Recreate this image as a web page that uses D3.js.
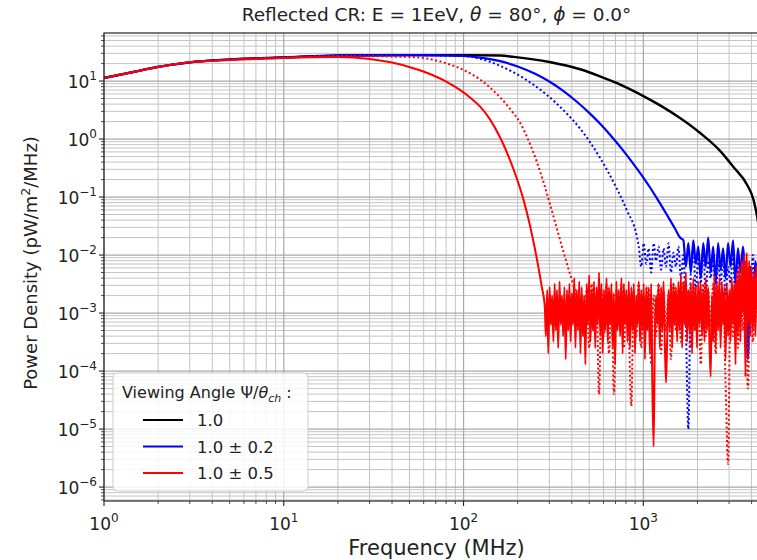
<!DOCTYPE html>
<html>
<head>
<meta charset="utf-8">
<script src="https://cdn.jsdelivr.net/npm/d3@7"></script>
<style>
  body { margin: 0; background: #fff; }
  text { font-family: "DejaVu Sans", sans-serif; fill: #222; }
</style>
</head>
<body>
<div id="chart"></div>
<script>
// smooth parts of the spectra (MHz, pW/m^2/MHz)
const blackFreq  = [1, 1.5, 2, 3, 5, 10, 20, 50, 100, 160, 190, 300, 450, 575, 750, 960, 1240, 1600, 2070, 2680, 3170, 3790, 4100, 4300, 4500];
const blackPower = [11.3, 14.6, 17.5, 21, 23.5, 25.5, 27.5, 28, 28, 27.5, 26.1, 21.3, 15.8, 12.0, 8.6, 5.9, 3.8, 2.3, 1.27, 0.62, 0.33, 0.16, 0.09, 0.045, 0.018];

const blueFreq  = [1, 1.5, 2, 3, 5, 10, 20, 50, 100, 130, 160, 200, 250, 303, 360, 430, 500, 575, 660, 750, 876, 1000, 1090, 1200, 1365, 1500, 1600];
const bluePower = [11.3, 14.6, 17.5, 21, 23.5, 25.5, 27.5, 28, 27, 24.9, 22.0, 17.8, 13.3, 9.6, 6.7, 4.3, 2.82, 1.83, 1.14, 0.71, 0.38, 0.217, 0.146, 0.091, 0.047, 0.0286, 0.020];

const blueDotFreq  = [1, 1.5, 2, 3, 5, 10, 20, 50, 100, 123, 160, 190, 243, 290, 377, 446, 575, 700, 810, 920];
const blueDotPower = [11.3, 14.6, 17.5, 21, 23.5, 25.5, 27.5, 28, 27, 24.3, 18.2, 14.1, 8.8, 5.8, 2.7, 1.5, 0.47, 0.155, 0.059, 0.021];

const redFreq  = [1, 1.5, 2, 3, 5, 10, 20, 30, 40, 52, 67, 81, 95, 110, 123, 140, 160, 180, 200, 215, 230, 245, 260, 272];
const redPower = [11.3, 14.6, 17.5, 21, 23, 25, 26, 24.0, 20.8, 16.8, 12.7, 9.6, 7.1, 5.05, 3.69, 2.2, 1.05, 0.46, 0.189, 0.092, 0.041, 0.0168, 0.0065, 0.0029];

const redDotFreq  = [1, 1.5, 2, 3, 5, 10, 20, 50, 81, 100, 123, 140, 160, 185, 207, 230, 256, 280, 303, 330, 360, 392, 420, 443];
const redDotPower = [11.3, 14.6, 17.5, 21, 23.5, 25.5, 27, 26, 20, 15.5, 10.7, 7.8, 5.2, 3.06, 1.87, 0.94, 0.40, 0.17, 0.074, 0.029, 0.0112, 0.0046, 0.0023, 0.0014];

// noise floor of the 1.0 +/- 0.5 solid curve, finer sampling
const redNoiseFreq = [283, 287, 292, 296, 301, 306, 311, 316, 321, 326,
  331, 336, 342, 347, 353, 358, 364, 370, 376, 382,
  388, 394, 400, 406, 413, 419, 426, 433, 440, 447,
  454, 461, 469, 476, 484, 492, 500, 508, 516, 524,
  532, 540, 549, 558, 567, 576, 585, 594, 604, 614,
  624, 634, 644, 654, 665, 675, 686, 697, 708, 719,
  731, 743, 755, 767, 779, 791, 804, 817, 830, 843,
  857, 871, 885, 899, 913, 928, 943, 958, 973, 989,
  1005, 1021, 1037, 1053, 1070, 1087, 1105, 1123, 1141, 1159,
  1177, 1196, 1215, 1235, 1255, 1275, 1295, 1316, 1337, 1358,
  1380, 1402, 1425, 1448, 1471, 1494, 1518, 1542, 1567, 1592,
  1618, 1644, 1670, 1697, 1724, 1752, 1780, 1808, 1837, 1867,
  1897, 1927, 1958, 1989, 2021, 2053, 2086, 2120, 2154, 2188,
  2223, 2259, 2295, 2332, 2369, 2407, 2446, 2485, 2525, 2565,
  2606, 2648, 2690, 2733, 2777, 2822, 2867, 2913, 2960, 3007,
  3055, 3104, 3154, 3205, 3256, 3308, 3361, 3415, 3469, 3525,
  3581, 3638, 3697, 3756, 3816, 3878, 3940, 4003, 4067, 4132,
  4198, 4266, 4334, 4404, 4474];

const redNoise = [1.3e-3, 4.0e-4, 2.5e-3, 2.0e-4, 2.8e-3, 6.3e-4, 2.0e-3, 3.2e-4, 3.2e-3, 5.0e-4,
  2.5e-3, 2.5e-4, 3.5e-3, 6.3e-4, 2.0e-3, 4.0e-4, 2.8e-3, 1.6e-4, 2.5e-3, 5.0e-4,
  3.2e-3, 3.2e-4, 2.2e-3, 6.3e-4, 4.0e-3, 2.5e-4, 2.5e-3, 5.0e-4, 3.5e-3, 2.0e-4,
  2.8e-3, 4.0e-4, 2.0e-3, 1.3e-4, 3.2e-3, 6.3e-4, 4.5e-3, 3.2e-4, 2.5e-3, 5.0e-4,
  3.5e-3, 2.5e-4, 2.8e-3, 6.3e-4, 5.0e-3, 4.0e-4, 3.2e-3, 2.0e-4, 2.5e-3, 5.0e-4,
  4.0e-3, 3.2e-4, 2.8e-3, 6.3e-4, 3.2e-3, 2.5e-4, 2.2e-3, 1.3e-4, 3.5e-3, 5.0e-4,
  2.5e-3, 4.0e-4, 4.0e-3, 2.0e-4, 3.2e-3, 6.3e-4, 2.5e-3, 3.2e-4, 3.5e-3, 2.5e-4,
  2.8e-3, 5.0e-4, 3.2e-3, 2.0e-4, 2.0e-3, 6.3e-4, 3.5e-3, 3.2e-4, 2.5e-3, 5.0e-4,
  3.2e-3, 1.6e-4, 2.8e-3, 5.0e-4, 2.5e-3, 2.0e-4, 3.2e-3, 5.0e-5, 5.0e-6, 4.0e-4,
  2.0e-3, 6.3e-4, 3.2e-3, 2.5e-4, 2.8e-3, 5.0e-4, 3.5e-3, 3.2e-4, 6.3e-5, 4.0e-4,
  2.5e-3, 5.0e-4, 4.0e-3, 2.5e-4, 3.2e-3, 6.3e-4, 2.8e-3, 3.2e-4, 3.5e-3, 5.0e-4,
  4.5e-3, 2.5e-4, 3.2e-3, 6.3e-4, 5.0e-3, 3.2e-4, 2.5e-3, 5.0e-4, 3.2e-3, 2.0e-4,
  4.0e-3, 5.0e-4, 2.8e-3, 2.5e-4, 3.5e-3, 6.3e-4, 3.2e-3, 4.0e-4, 2.5e-3, 3.2e-4,
  4.0e-3, 5.0e-4, 2.8e-3, 3.2e-4, 8.0e-5, 2.0e-3, 3.2e-4, 4.5e-3, 2.5e-4, 3.2e-3,
  5.0e-4, 4.0e-3, 2.5e-4, 3.5e-3, 6.3e-4, 2.8e-3, 1.6e-4, 3.2e-3, 4.0e-4, 2.5e-3,
  3.2e-4, 4.0e-3, 6.3e-4, 3.2e-3, 1.3e-4, 5.0e-3, 4.0e-4, 6.3e-3, 3.2e-4, 7.9e-3,
  1.0e-3, 1.0e-2, 8.0e-5, 1.1e-2, 6.3e-4, 7.9e-3, 4.0e-4, 6.3e-3, 5.0e-4, 5.0e-3,
  4.0e-4, 6.3e-3, 1.0e-3, 5.0e-3, 1.6e-3];

// noise floors of the other curves; each tail lines up with the end of noiseFreq
const noiseFreq = [283, 292, 301, 311, 321, 331, 342, 353, 364, 376, 388, 400, 413, 426, 440, 454, 469, 484, 500, 516,
  532, 549, 567, 585, 604, 624, 644, 665, 686, 708, 731, 755, 779, 804, 830, 857, 885, 913, 943, 973,
  1005, 1037, 1070, 1105, 1141, 1177, 1215, 1255, 1295, 1337, 1380, 1425, 1471, 1518, 1567, 1618, 1670, 1724, 1780, 1837,
  1897, 1958, 2021, 2086, 2154, 2223, 2295, 2369, 2446, 2525, 2606, 2690, 2777, 2867, 2960, 3055, 3154, 3256, 3361, 3469,
  3581, 3697, 3816, 3940, 4067, 4198, 4334, 4474];

const redDotNoise = [1.6e-3, 4.0e-4, 2.5e-3, 2.5e-4, 3.2e-3, 5.0e-4, 2.0e-3, 4.0e-5, 2.5e-3, 4.0e-4,
  3.2e-3, 2.0e-4, 2.0e-3, 4.0e-5, 2.5e-3, 6.3e-4, 3.2e-3, 2.5e-4, 2.0e-3, 5.0e-4,
  2.5e-5, 2.5e-3, 4.0e-4, 3.2e-3, 2.5e-4, 2.0e-3, 6.3e-4, 2.8e-3, 1.3e-4, 2.0e-3,
  4.0e-4, 3.2e-3, 2.0e-4, 2.5e-3, 5.0e-4, 2.0e-3, 1.6e-4, 3.2e-3, 5.0e-4, 2.5e-3,
  3.2e-4, 3.5e-3, 6.3e-4, 2.5e-3, 2.5e-4, 3.2e-3, 5.0e-4, 2.0e-3, 1.3e-4, 3.2e-3,
  4.0e-4, 2.5e-3, 6.3e-4, 3.2e-3, 2.0e-4, 2.5e-3, 5.0e-4, 2.0e-3, 6.3e-5, 2.5e-6,
  2.5e-3, 4.0e-4, 3.2e-3, 2.5e-4, 4.0e-3, 5.0e-4, 7.9e-3, 5.0e-5, 5.0e-3, 3.2e-4,
  4.0e-3, 6.3e-4, 2.5e-3];

const blueDotNoise = [1.4e-2, 6.3e-3, 1.6e-2, 7.1e-3, 1.3e-2, 5.0e-3, 1.6e-2, 7.9e-3, 1.4e-2, 5.6e-3,
  1.3e-2, 6.3e-3, 1.6e-2, 5.0e-3, 1.1e-2, 6.3e-3, 1.4e-2, 4.0e-3, 1.0e-2, 6.3e-4,
  1.0e-5, 5.0e-3, 1.3e-2, 2.5e-3, 1.0e-2, 3.2e-3, 1.3e-2, 2.0e-3, 7.9e-3, 4.0e-3,
  1.1e-2, 1.6e-3, 7.9e-3, 3.2e-3, 1.0e-2, 2.0e-3, 6.3e-3, 3.2e-3, 1.3e-2, 1.3e-3,
  7.9e-3, 2.5e-3, 1.0e-2, 2.5e-4, 6.3e-3, 2.0e-3, 1.0e-2, 1.3e-3, 7.9e-3, 3.2e-3];

const blueNoise = [1.8e-2, 6.3e-3, 1.6e-2, 5.0e-3, 1.8e-2, 7.1e-3, 1.4e-2, 4.0e-3, 1.6e-2, 6.3e-3,
  2.0e-2, 5.0e-3, 1.4e-2, 3.2e-3, 1.6e-2, 5.6e-3, 1.3e-2, 4.0e-3, 1.6e-2, 6.3e-3,
  1.8e-2, 3.2e-3, 1.3e-2, 5.0e-3, 1.4e-2, 2.5e-3, 1.6e-4, 6.3e-3, 1.3e-3, 7.9e-3,
  2.5e-3, 1.0e-2];

const legendLabels = ["1.0", "1.0 \u00b1 0.2", "1.0 \u00b1 0.5"];
const legendColors = ["black", "blue", "red"];
const xTickExp = [0, 1, 2, 3];
const yTickExp = [1, 0, -1, -2, -3, -4, -5, -6];

const width = 757, height = 560;
const plot = {left: 104, top: 33, right: 769, bottom: 501};

const svg = d3.select("#chart").append("svg")
  .attr("width", width).attr("height", height);

const x = d3.scaleLog().domain([1, 5000]).range([plot.left, plot.right]);
const y = d3.scaleLog().domain([5.75e-7, 67.3]).range([plot.bottom, plot.top]);

const isMajor = v => Math.abs(Math.log10(v) - Math.round(Math.log10(v))) < 1e-6;

// grid, minor first then major
const grid = svg.append("g");
const xt = x.ticks(), yt = y.ticks();
grid.selectAll(".gxm").data(xt.filter(v => !isMajor(v))).enter().append("line")
  .attr("x1", d => x(d)).attr("x2", d => x(d)).attr("y1", plot.top).attr("y2", plot.bottom)
  .attr("stroke", "#c4c4c4").attr("stroke-width", 1);
grid.selectAll(".gym").data(yt.filter(v => !isMajor(v))).enter().append("line")
  .attr("y1", d => y(d)).attr("y2", d => y(d)).attr("x1", plot.left).attr("x2", plot.right)
  .attr("stroke", "#c4c4c4").attr("stroke-width", 1);
grid.selectAll(".gxM").data(xt.filter(isMajor)).enter().append("line")
  .attr("x1", d => x(d)).attr("x2", d => x(d)).attr("y1", plot.top).attr("y2", plot.bottom)
  .attr("stroke", "#a8a8a8").attr("stroke-width", 1.2);
grid.selectAll(".gyM").data(yt.filter(isMajor)).enter().append("line")
  .attr("y1", d => y(d)).attr("y2", d => y(d)).attr("x1", plot.left).attr("x2", plot.right)
  .attr("stroke", "#a8a8a8").attr("stroke-width", 1.2);

// curves
svg.append("clipPath").attr("id", "clip").append("rect")
  .attr("x", plot.left).attr("y", plot.top)
  .attr("width", plot.right - plot.left).attr("height", plot.bottom - plot.top);

function series(freq, power, tailFreq, tail) {
  const pts = freq.map((f, i) => [f, power[i]]);
  if (tail) {
    const off = tailFreq.length - tail.length;
    tail.forEach((v, i) => pts.push([tailFreq[off + i], v]));
  }
  return pts;
}

const curves = [
  {pts: series(blackFreq, blackPower), color: "black", dash: null, w: 2.4},
  {pts: series(blueFreq, bluePower, noiseFreq, blueNoise), color: "blue", dash: null, w: 2.2},
  {pts: series(blueDotFreq, blueDotPower, noiseFreq, blueDotNoise), color: "blue", dash: "2,2.5", w: 2},
  {pts: series(redFreq, redPower, redNoiseFreq, redNoise), color: "red", dash: null, w: 2},
  {pts: series(redDotFreq, redDotPower, noiseFreq, redDotNoise), color: "red", dash: "2,2.5", w: 2}
];

const line = d3.line().curve(d3.curveMonotoneX).x(d => x(d[0])).y(d => y(d[1]));
svg.append("g").attr("clip-path", "url(#clip)")
  .selectAll("path").data(curves).enter().append("path")
  .attr("d", d => line(d.pts))
  .attr("fill", "none")
  .attr("stroke", d => d.color)
  .attr("stroke-width", d => d.w)
  .attr("stroke-dasharray", d => d.dash)
  .attr("stroke-linejoin", "round");

// frame
svg.append("rect")
  .attr("x", plot.left).attr("y", plot.top)
  .attr("width", plot.right - plot.left).attr("height", plot.bottom - plot.top)
  .attr("fill", "none").attr("stroke", "#222").attr("stroke-width", 1.2);

// ticks
const ticks = svg.append("g").attr("stroke", "#222");
ticks.selectAll(".tx").data(xt).enter().append("line")
  .attr("x1", d => x(d)).attr("x2", d => x(d))
  .attr("y1", plot.bottom).attr("y2", d => plot.bottom + (isMajor(d) ? 5 : 3))
  .attr("stroke-width", d => isMajor(d) ? 1.1 : 0.8);
ticks.selectAll(".ty").data(yt).enter().append("line")
  .attr("y1", d => y(d)).attr("y2", d => y(d))
  .attr("x1", plot.left).attr("x2", d => plot.left - (isMajor(d) ? 5 : 3))
  .attr("stroke-width", d => isMajor(d) ? 1.1 : 0.8);

function powLabel(sel, e) {
  sel.append("tspan").text("10");
  sel.append("tspan").attr("dy", -8).attr("font-size", 12)
    .text(e < 0 ? "\u2212" + (-e) : String(e));
}

svg.selectAll(".xl").data(xTickExp).enter().append("text")
  .attr("x", d => x(Math.pow(10, d))).attr("y", 530)
  .attr("text-anchor", "middle").attr("font-size", 17)
  .each(function(d) { powLabel(d3.select(this), d); });

svg.selectAll(".yl").data(yTickExp).enter().append("text")
  .attr("x", 97).attr("y", d => y(Math.pow(10, d)) + 7)
  .attr("text-anchor", "end").attr("font-size", 17)
  .each(function(d) { powLabel(d3.select(this), d); });

// axis titles
svg.append("text").attr("x", (plot.left + plot.right) / 2).attr("y", 555)
  .attr("text-anchor", "middle").attr("font-size", 21).text("Frequency (MHz)");

const yl = svg.append("text")
  .attr("transform", `translate(37,${(plot.top + plot.bottom) / 2 - 4}) rotate(-90)`)
  .attr("text-anchor", "middle").attr("font-size", 18);
yl.append("tspan").text("Power Density (pW/m");
yl.append("tspan").attr("dy", -7).attr("font-size", 12.5).text("2");
yl.append("tspan").attr("dy", 7).text("/MHz)");

// title
const tt = svg.append("text").attr("x", (plot.left + plot.right) / 2).attr("y", 21)
  .attr("text-anchor", "middle").attr("font-size", 18.5);
tt.append("tspan").text("Reflected CR: E = 1EeV, ");
tt.append("tspan").attr("font-style", "italic").text("\u03b8");
tt.append("tspan").text(" = 80\u00b0, ");
tt.append("tspan").attr("font-style", "italic").text("\u03d5");
tt.append("tspan").text(" = 0.0\u00b0");

// legend
const lg = svg.append("g");
lg.append("rect").attr("x", 113).attr("y", 373).attr("width", 195).attr("height", 118)
  .attr("rx", 4).attr("fill", "white").attr("fill-opacity", 0.85)
  .attr("stroke", "#cccccc");
const lt = lg.append("text").attr("x", 122).attr("y", 398).attr("font-size", 16);
lt.append("tspan").text("Viewing Angle \u03a8/");
lt.append("tspan").attr("font-style", "italic").text("\u03b8");
lt.append("tspan").attr("font-style", "italic").attr("font-size", 11).attr("dy", 4).text("ch");
lt.append("tspan").attr("dy", -4).text(" :");

const items = lg.selectAll(".it").data(legendLabels).enter().append("g")
  .attr("transform", (d, i) => `translate(0,${420 + i * 26.5})`);
items.append("line").attr("x1", 143).attr("x2", 183).attr("y1", 0).attr("y2", 0)
  .attr("stroke", (d, i) => legendColors[i]).attr("stroke-width", 2.2);
items.append("text").attr("x", 197).attr("y", 6).attr("font-size", 16.5).text(d => d);
</script>
</body>
</html>
